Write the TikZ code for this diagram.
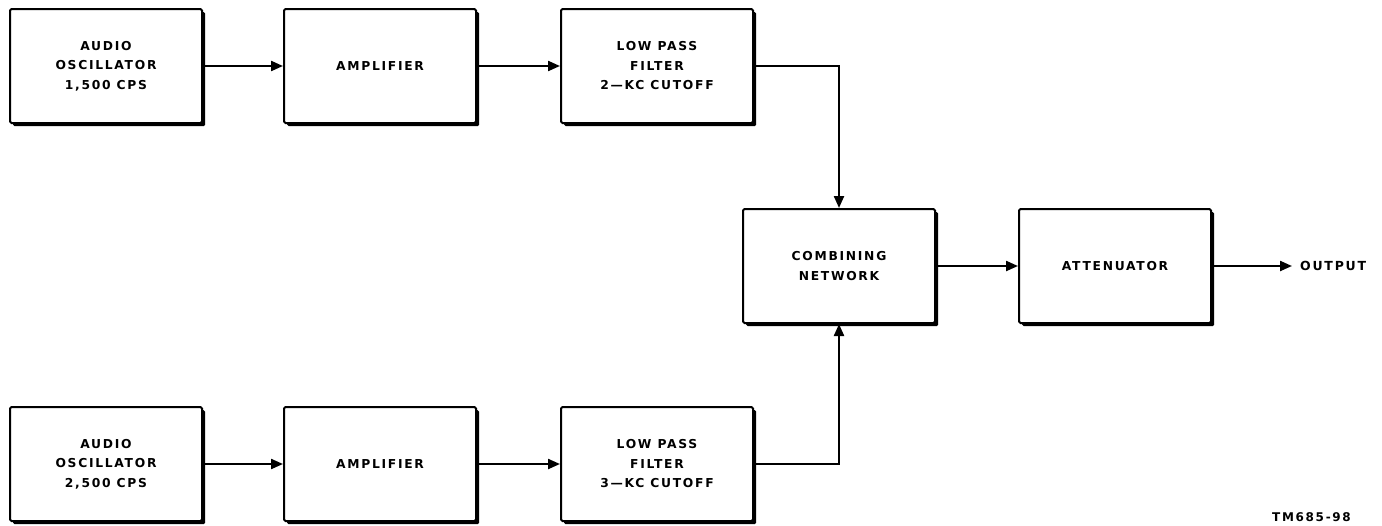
\documentclass[tikz,border=0pt]{standalone}
\usepackage{fontspec}
\setsansfont{DejaVu Sans}[LetterSpace=14]
\usetikzlibrary{arrows.meta,shadows}
\tikzset{
  blk/.style={draw, line width=2pt, fill=white, minimum width=192pt, minimum height=114pt,
    align=center, font=\sffamily\bfseries\fontsize{12.3}{19.5}\selectfont, rounded corners=1.5pt,
    drop shadow={shadow xshift=3.2pt, shadow yshift=-3.2pt, fill=black, opacity=1}},
  conn/.style={line width=2.2pt, -{Triangle[length=12pt,width=10pt]}},
  lbl/.style={font=\sffamily\bfseries\fontsize{12.5}{14}\selectfont, anchor=west, inner sep=0pt}
}
\begin{document}
\begin{tikzpicture}[x=1pt,y=-1pt]
\useasboundingbox (0,0) rectangle (1382,525);
\node[blk] (osc1) at (106,66) {AUDIO\\OSCILLATOR\\1,500 CPS};
\node[blk] (amp1) at (380,66) {AMPLIFIER};
\node[blk] (lpf1) at (657,66) {LOW PASS\\FILTER\\2---KC CUTOFF};
\node[blk] (comb) at (839,266) {COMBINING\\NETWORK};
\node[blk] (att) at (1115,266) {ATTENUATOR};
\node[blk] (osc2) at (106,464) {AUDIO\\OSCILLATOR\\2,500 CPS};
\node[blk] (amp2) at (380,464) {AMPLIFIER};
\node[blk] (lpf2) at (657,464) {LOW PASS\\FILTER\\3---KC CUTOFF};
\coordinate (outend) at (1292,266);
\node[lbl] (outlbl) at (1300,266) {OUTPUT};
\node[lbl, font=\sffamily\bfseries\fontsize{12}{13}\selectfont] (tm) at (1272,517) {TM685-98};
\draw[conn] (osc1.east) -- (amp1.west);
\draw[conn] (amp1.east) -- (lpf1.west);
\draw[conn] (lpf1.east) -| (comb.north);
\draw[conn] (osc2.east) -- (amp2.west);
\draw[conn] (amp2.east) -- (lpf2.west);
\draw[conn] (lpf2.east) -| (comb.south);
\draw[conn] (comb.east) -- (att.west);
\draw[conn] (att.east) -- (outend);
\end{tikzpicture}
\end{document}
